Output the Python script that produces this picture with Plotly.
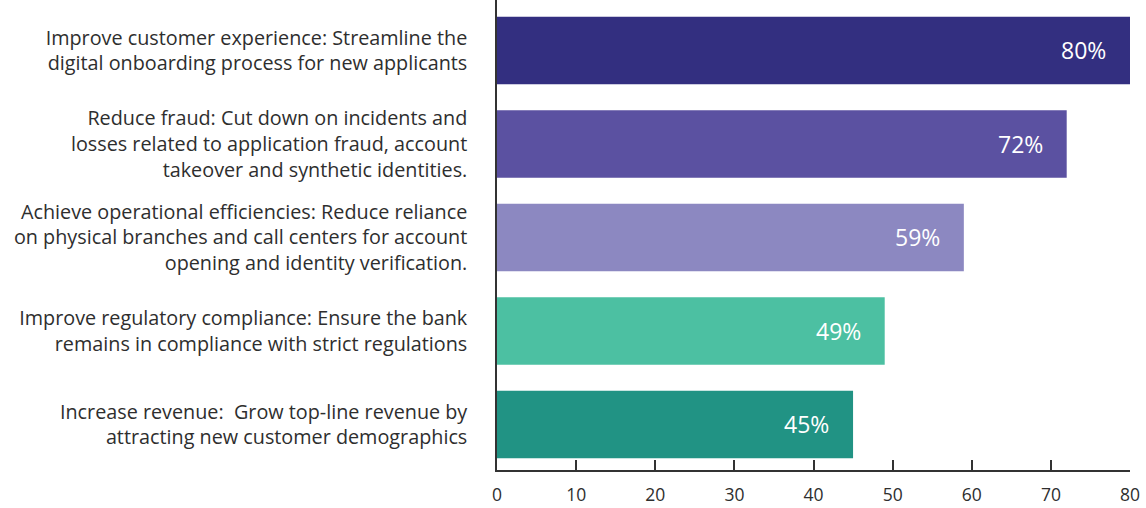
import plotly.graph_objects as go

# Survey goals (top to bottom) and share of respondents
categories = [
    "Improve customer experience: Streamline the<br>digital onboarding process for new applicants",
    "Reduce fraud: Cut down on incidents and<br>losses related to application fraud, account<br>takeover and synthetic identities.",
    "Achieve operational efficiencies: Reduce reliance<br>on physical branches and call centers for account<br>opening and identity verification.",
    "Improve regulatory compliance: Ensure the bank<br>remains in compliance with strict regulations",
    "Increase revenue:  Grow top-line revenue by<br>attracting new customer demographics",
]
values = [80, 72, 59, 49, 45]
colors = ["#332F80", "#5B51A1", "#8C88C1", "#4CC0A2", "#219384"]
x_ticks = [0, 10, 20, 30, 40, 50, 60, 70, 80]

FONT = "Open Sans"

fig = go.Figure(
    go.Bar(
        x=values,
        y=categories,
        orientation="h",
        marker=dict(color=colors, line=dict(width=0)),
        width=0.72,
        hoverinfo="skip",
    )
)

# Percentage labels sitting inside the end of each bar
for cat, v in zip(categories, values):
    fig.add_annotation(
        x=v, y=cat, xref="x", yref="y",
        text=f"{v}%", showarrow=False,
        xanchor="right", yanchor="middle", xshift=-22,
        font=dict(family=FONT, size=23, color="white"),
    )

fig.update_layout(
    width=1146, height=508,
    margin=dict(l=497, r=16, t=0, b=38),
    paper_bgcolor="white", plot_bgcolor="white",
    showlegend=False,
    bargap=0.28,
    font=dict(family=FONT, size=17, color="#2E2E2E"),
)
fig.update_xaxes(
    range=[0, 80], tickvals=x_ticks,
    showgrid=False, zeroline=False,
    showline=True, linecolor="#333333", linewidth=1.5,
    ticks="inside", ticklen=10, tickwidth=1.5, tickcolor="#333333",
    ticklabelstandoff=8,
    tickfont=dict(family=FONT, size=17.5, color="#2E2E2E"),
)
fig.update_yaxes(
    categoryorder="array", categoryarray=categories,
    range=[4.487, -0.54],
    showgrid=False, zeroline=False,
    showline=True, linecolor="#333333", linewidth=1.5,
    ticks="", ticklabelstandoff=24,
    tickfont=dict(family=FONT, size=19.8, color="#2E2E2E"),
)

fig.write_html("out.html")
